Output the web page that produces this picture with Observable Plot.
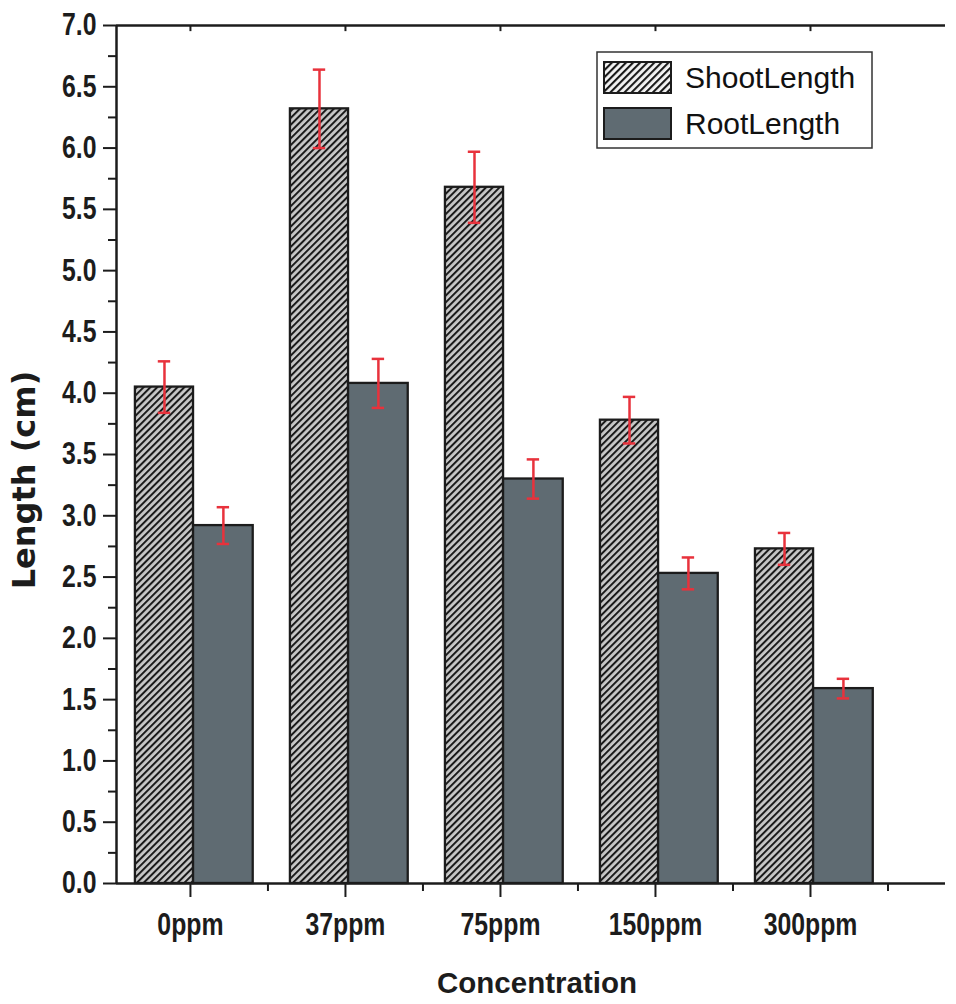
<!DOCTYPE html>
<html>
<head>
<meta charset="utf-8">
<script src="https://cdn.jsdelivr.net/npm/d3@7"></script>
<script src="https://cdn.jsdelivr.net/npm/@observablehq/plot@0.6"></script>
<style>
html,body{margin:0;padding:0;background:#fff;}
#chart{width:956px;height:1004px;}
</style>
</head>
<body>
<div id="chart"></div>
<script>
// ---- data ----
const categories = ["0ppm", "37ppm", "75ppm", "150ppm", "300ppm"];
const seriesNames = ["ShootLength", "RootLength"];
const shootLength = [4.05, 6.32, 5.68, 3.78, 2.73];
const shootError  = [0.21, 0.32, 0.29, 0.19, 0.13];
const rootLength  = [2.92, 4.08, 3.30, 2.53, 1.59];
const rootError   = [0.15, 0.20, 0.16, 0.13, 0.08];
const yTicks = d3.range(0, 7.01, 0.5);

// ---- layout / style ----
const seriesFills = ["url(#hatch)", "#5f6b72"];
const offsets = {ShootLength: [-0.355, 0.02], RootLength: [0.02, 0.405]};
const capHalf = 0.04;
const ink = "#1c1c1c";
const red = "#e8323c";
const sans = "'Liberation Sans',Arial,sans-serif";

const rows = [];
categories.forEach((c, i) => {
  [[seriesNames[0], shootLength[i], shootError[i]], [seriesNames[1], rootLength[i], rootError[i]]]
    .forEach(([s, v, e]) => {
      const x1 = i + offsets[s][0], x2 = i + offsets[s][1];
      rows.push({i, cat: c, series: s, value: v, err: e, x1, x2, xm: (x1 + x2) / 2});
    });
});

const xDomain = [-0.477, 4.871];
const topTicks = d3.range(0, categories.length);

const chart = Plot.plot({
  width: 956,
  height: 1004,
  marginLeft: 116,
  marginRight: 11,
  marginTop: 25,
  marginBottom: 121,
  style: {fontFamily: sans, fontWeight: "bold", fontSize: "31px", color: ink, background: "#fff", overflow: "visible"},
  x: {type: "linear", domain: xDomain, axis: null},
  y: {type: "linear", domain: [0, 7], axis: null},
  color: {domain: seriesNames, range: seriesFills},
  marks: [
    Plot.rect(rows, {x1: "x1", x2: "x2", y1: 0, y2: "value", fill: "series", stroke: ink, strokeWidth: 2.3}),
    Plot.ruleX(rows, {x: "xm", y1: d => d.value - d.err, y2: d => d.value + d.err, stroke: red, strokeWidth: 2.5}),
    Plot.ruleY(rows, {x1: d => d.xm - capHalf, x2: d => d.xm + capHalf, y: d => d.value + d.err, stroke: red, strokeWidth: 2.5}),
    Plot.ruleY(rows, {x1: d => d.xm - capHalf, x2: d => d.xm + capHalf, y: d => d.value - d.err, stroke: red, strokeWidth: 2.5}),
    // y axis
    Plot.axisY({anchor: "left", ticks: yTicks, tickFormat: d => d.toFixed(1), tickSize: 13, tickPadding: 7, label: null, stroke: ink, strokeWidth: 2}),
    Plot.axisY({anchor: "left", ticks: d3.range(0.25, 7, 0.5), tickFormat: () => "", tickSize: 8, label: null, stroke: ink, strokeWidth: 2}),
    // x axis
    Plot.axisX({anchor: "bottom", ticks: d3.range(0, categories.length), tickFormat: i => categories[i], tickSize: 14, tickPadding: 15, label: null, stroke: ink, strokeWidth: 2}),
    Plot.axisX({anchor: "bottom", ticks: d3.range(0.5, categories.length, 1), tickFormat: () => "", tickSize: 8, label: null, stroke: ink, strokeWidth: 2}),
    // frame lines
    Plot.ruleY([0], {stroke: ink, strokeWidth: 2.5}),
    Plot.ruleY([7], {stroke: ink, strokeWidth: 2.5}),
    Plot.ruleX([xDomain[0]], {stroke: ink, strokeWidth: 2.5}),
    Plot.ruleX(topTicks, {x: d => d, y1: 7, y2: 6.95, stroke: ink, strokeWidth: 2})
  ]
});

document.getElementById("chart").appendChild(chart);

const svg = d3.select(chart);

// condense tick labels (the reference uses a narrow bold face)
svg.selectAll('g[aria-label="y-axis tick label"] text, g[aria-label="x-axis tick label"] text')
  .each(function () {
    const w = this.getComputedTextLength();
    if (w > 0) {
      this.setAttribute("textLength", (w * 0.8).toFixed(1));
      this.setAttribute("lengthAdjust", "spacingAndGlyphs");
    }
  });

// hatch pattern
const defs = svg.insert("defs", ":first-child");
const pat = defs.append("pattern")
  .attr("id", "hatch")
  .attr("patternUnits", "userSpaceOnUse")
  .attr("width", 4.8).attr("height", 4.8)
  .attr("patternTransform", "rotate(45)");
pat.append("rect").attr("width", 4.8).attr("height", 4.8).attr("fill", "#c8c8c8");
pat.append("line").attr("x1", 1).attr("y1", 0).attr("x2", 1).attr("y2", 4.8)
  .attr("stroke", "#1a1a1a").attr("stroke-width", 2);

const pat2 = defs.append("pattern")
  .attr("id", "hatchLegend")
  .attr("patternUnits", "userSpaceOnUse")
  .attr("width", 5).attr("height", 5)
  .attr("patternTransform", "rotate(45)");
pat2.append("rect").attr("width", 5).attr("height", 5).attr("fill", "#f4f4f4");
pat2.append("line").attr("x1", 1).attr("y1", 0).attr("x2", 1).attr("y2", 5)
  .attr("stroke", "#1a1a1a").attr("stroke-width", 2.2);

// axis titles
svg.append("text")
  .attr("transform", "translate(35,480) rotate(-90)")
  .attr("text-anchor", "middle")
  .style("font-family", "'DejaVu Sans',sans-serif")
  .style("font-weight", "bold")
  .style("font-size", "32px")
  .attr("fill", ink)
  .text("Length (cm)");

svg.append("text")
  .attr("x", 537).attr("y", 993)
  .attr("text-anchor", "middle")
  .style("font-family", sans)
  .style("font-weight", "bold")
  .style("font-size", "29.5px")
  .attr("fill", ink)
  .text("Concentration");

// legend
const lg = svg.append("g").attr("transform", "translate(597,52)");
lg.append("rect").attr("width", 275).attr("height", 96)
  .attr("fill", "#fff").attr("stroke", "#333").attr("stroke-width", 1.5);
const legendFills = ["url(#hatchLegend)", seriesFills[1]];
seriesNames.forEach((s, k) => {
  const row = lg.append("g").attr("transform", `translate(7,${10 + k * 46})`);
  row.append("rect").attr("width", 67).attr("height", 31)
    .attr("fill", legendFills[k]).attr("stroke", ink).attr("stroke-width", 2);
  row.append("text").attr("x", 81).attr("y", 26)
    .attr("text-anchor", "start")
    .style("font-family", sans)
    .style("font-weight", "normal")
    .style("font-size", "30px")
    .attr("fill", "#111")
    .text(s);
});
</script>
</body>
</html>
